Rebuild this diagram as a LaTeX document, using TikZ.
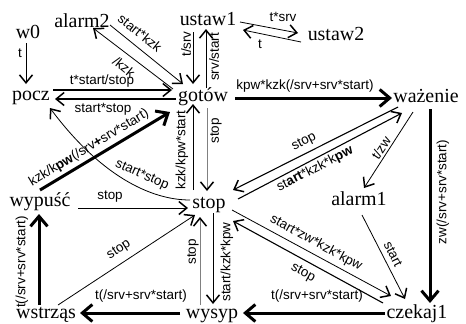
\documentclass[tikz,border=0pt]{standalone}
\usepackage{fontspec}
\setmainfont{Liberation Serif}
\newfontfamily\labfont{Liberation Sans}
\usetikzlibrary{arrows.meta,calc}
\begin{document}
\begin{tikzpicture}[x=1bp,y=-1bp,
  st/.style={font=\fontsize{20}{24}\selectfont, inner sep=0pt, anchor=base},
  lb/.style={font=\labfont\fontsize{13.5}{16}\selectfont, inner sep=0pt},
  tarr/.style={line width=0.8bp, -{Straight Barb[length=8bp,width=13bp,line width=1.5bp]}},
  marr/.style={line width=1.1bp, -{Straight Barb[length=8bp,width=13bp,line width=1.5bp]}},
  barr/.style={line width=3bp, -{Straight Barb[length=10bp,width=17bp,line width=3bp]}},
  garr/.style={line width=0.9bp, draw=black!50, -{Straight Barb[length=8bp,width=13bp,line width=1.5bp,color=black]}},
]
\fill[white] (0,0) rectangle (466,323);
\useasboundingbox (0,0) rectangle (466,323);

% states
\node[st] (w0) at (28,38) {w0};
\node[st] (alarm2) at (82,27) {alarm2};
\node[st] (ustaw1) at (208,25) {ustaw1};
\node[st] (ustaw2) at (336,40) {ustaw2};
\node[st] (pocz) at (31,100) {pocz};
\node[st] (gotow) at (203,101) {gotów};
\node[st] (wazenie) at (426,102) {ważenie};
\node[st] (wypusc) at (40,206) {wypuść};
\node[st] (stop) at (209,208) {stop};
\node[st] (alarm1) at (359,205) {alarm1};
\node[st] (wstrzas) at (46,318) {wstrząs};
\node[st] (wysyp) at (212,318) {wysyp};
\node[st] (czekaj1) at (417,318) {czekaj1};

% w0 -> pocz
\draw[tarr] ($(w0.base)+(-2,5)$) -- ($(pocz.base)+(-5,-16)$);
\node[lb] (l1) at (20,53) {t};

% alarm2 <-> gotow
\draw[tarr] ($(alarm2.base)+(28,-2)$) -- ($(gotow.base)+(-20,-17)$);
\node[lb, rotate=-39] (l2) at (140,33) {start*kzk};
\draw[tarr] ($(gotow.base)+(-30,-12)$) -- ($(alarm2.base)+(11,1)$);
\node[lb, rotate=-39] (l3) at (124,67) {/kzk};

% ustaw1 <-> gotow
\draw[tarr] ($(ustaw1.base)+(-15,7)$) -- ($(gotow.base)+(-10,-17)$);
\node[lb, rotate=90] (l4) at (186,44) {t/srv};
\draw[tarr] ($(gotow.base)+(3,-13)$) -- ($(ustaw1.base)+(-2,4)$);
\node[lb, rotate=90] (l5) at (214,57) {srv/start};

% ustaw1 <-> ustaw2
\draw[tarr] ($(ustaw1.base)+(32,-3)$) -- ($(ustaw2.base)+(-38,-7)$);
\node[lb] (l6) at (283,17) {t*srv};
\draw[tarr] ($(ustaw2.base)+(-35,2)$) -- ($(ustaw1.base)+(35,5)$);
\node[lb] (l7) at (260,44) {t};

% pocz <-> gotow
\draw[marr] ($(pocz.base)+(22,-10)$) -- ($(gotow.base)+(-31,-11)$);
\node[lb] (l8) at (102,81) {t*start/stop};
\draw[marr] ($(gotow.base)+(-27,-2)$) -- ($(pocz.base)+(24,-1)$);
\node[lb] (l9) at (103,109) {start*stop};

% gotow -> wazenie
\draw[barr] ($(gotow.base)+(32,-3)$) -- ($(wazenie.base)+(-34,-4)$);
\node[lb] (l10) at (305,86) {kpw*kzk(/srv+srv*start)};

% gotow <-> stop
\draw[garr] ($(gotow.base)+(4,7)$) -- ($(stop.base)+(-2,-17)$);
\node[lb, rotate=90] (l11) at (216,131) {stop};
\draw[tarr] ($(stop.base)+(-16,-18)$) -- ($(gotow.base)+(-10,3)$);
\node[lb, rotate=90] (l12) at (182,150) {kzk/kpw*start};

% wypusc -> gotow
\draw[barr] ($(wypusc.base)+(0,-16)$) -- ($(gotow.base)+(-33,11)$);
\node[lb, rotate=31] (l13) at (89,148) {kzk/k\textbf{pw}(/srv\textbf{+}srv*start)};

% stop -> pocz (curved)
\draw[tarr] ($(stop.base)+(-19,-8)$) .. controls (150,200) and (100,175) .. ($(pocz.base)+(19,8)$);
\node[lb, rotate=-24] (l14) at (142,175) {start*stop};

% wypusc -> stop
\draw[tarr] ($(wypusc.base)+(38,2)$) -- ($(stop.base)+(-21,0)$);
\node[lb] (l15) at (110,197) {stop};

% stop <-> wazenie
\draw[marr] ($(wazenie.base)+(-28,5)$) -- ($(stop.base)+(24,-18)$);
\node[lb, rotate=27] (l16) at (304,142) {stop};
\draw[marr] ($(stop.base)+(29,-9)$) -- ($(wazenie.base)+(-24,11)$);
\node[lb, rotate=27] (l17) at (315,169) {st\textbf{art}*kzk*k\textbf{pw}};

% wazenie -> alarm1
\draw[tarr] ($(wazenie.base)+(-13,10)$) -- ($(alarm1.base)+(5,-17)$);
\node[lb, rotate=57] (l18) at (381,148) {t/zw};

% alarm1 -> czekaj1
\draw[tarr] ($(alarm1.base)+(3,10)$) -- ($(czekaj1.base)+(-12,-19)$);
\node[lb, rotate=-63] (l19) at (393,254) {start};

% wazenie -> czekaj1
\draw[barr] ($(wazenie.base)+(4,7)$) -- ($(czekaj1.base)+(13,-15)$);
\node[lb, rotate=90] (l20) at (443,192) {zw(/srv+srv*start)};

% stop <-> czekaj1
\draw[tarr] ($(stop.base)+(23,2)$) -- ($(czekaj1.base)+(-26,-22)$);
\node[lb, rotate=-28.5] (l21) at (316,243) {start*zw*kzk*kpw};
\draw[marr] ($(czekaj1.base)+(-34,-15)$) -- ($(stop.base)+(24,13)$);
\node[lb, rotate=-28.5] (l22) at (303,273) {stop};

% stop <-> wysyp
\draw[garr] ($(wysyp.base)+(-12,-13)$) -- ($(stop.base)+(-9,9)$);
\node[lb, rotate=90] (l23) at (193,252) {stop};
\draw[tarr] ($(stop.base)+(4,5)$) -- ($(wysyp.base)+(1,-14)$);
\node[lb, rotate=90] (l24) at (227,262) {start/kzk*kpw};

% wstrzas -> wypusc
\draw[barr] ($(wstrzas.base)+(-7,-13)$) -- ($(wypusc.base)+(-1,8)$);
\node[lb, rotate=90] (l25) at (22,262) {t(/srv+srv*start)};

% wstrzas -> stop
\draw[tarr] ($(wstrzas.base)+(12,-13)$) -- ($(stop.base)+(-14,7)$);
\node[lb, rotate=33] (l26) at (119,250) {stop};

% wysyp -> wstrzas, czekaj1 -> wysyp
\draw[barr] ($(wysyp.base)+(-32,-5)$) -- ($(wstrzas.base)+(34,-5)$);
\node[lb] (l27) at (141,296) {t(/srv+srv*start)};
\draw[barr] ($(czekaj1.base)+(-32,-5)$) -- ($(wysyp.base)+(31,-5)$);
\node[lb] (l28) at (317,296) {t(/srv+srv*start)};
\end{tikzpicture}
\end{document}
